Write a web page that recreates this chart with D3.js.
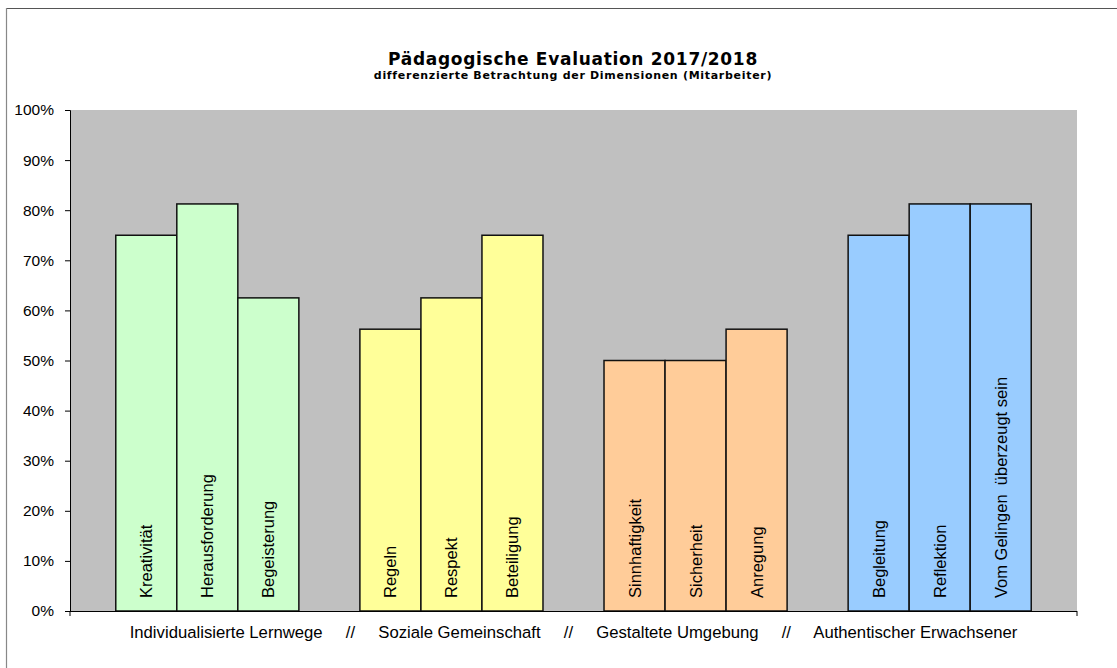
<!DOCTYPE html>
<html>
<head>
<meta charset="utf-8">
<script src="https://cdn.jsdelivr.net/npm/d3@7"></script>
<style>
  body { margin: 0; background: #fff; }
  svg { display: block; }
</style>
</head>
<body>
<svg></svg>
<script>
// Kategorien (leere Einträge = Lücken zwischen den Gruppen)
const categories = [
  "Kreativität", "Herausforderung", "Begeisterung", "gap1",
  "Regeln", "Respekt", "Beteiligung", "gap2",
  "Sinnhaftigkeit", "Sicherheit", "Anregung", "gap3",
  "Begleitung", "Reflektion", "Vom Gelingen  überzeugt sein"
];
// Werte in Prozent (null = Lücke)
const values = [
  75, 81.25, 62.5, null,
  56.25, 62.5, 75, null,
  50, 50, 56.25, null,
  75, 81.25, 81.25
];
// Gruppe je Balken
const groups = [0, 0, 0, -1, 1, 1, 1, -1, 2, 2, 2, -1, 3, 3, 3];
const groupColors = ["#ccffcc", "#ffff99", "#ffcc99", "#99ccff"];
const yTicks = [0, 10, 20, 30, 40, 50, 60, 70, 80, 90, 100];
const title = "Pädagogische Evaluation 2017/2018";
const subtitle = "differenzierte Betrachtung der Dimensionen (Mitarbeiter)";
const axisTitle = "Individualisierte Lernwege     //     Soziale Gemeinschaft     //     Gestaltete Umgebung     //     Authentischer Erwachsener";

const width = 1117, height = 668;
const plot = { left: 70, right: 1077, top: 110, bottom: 611 };

const svg = d3.select("svg").attr("width", width).attr("height", height);

// Rahmen (nur oben und links sichtbar)
svg.append("line").attr("x1", 6).attr("x2", width).attr("y1", 8.5).attr("y2", 8.5)
  .attr("stroke", "#555").attr("stroke-width", 1.2);
svg.append("line").attr("x1", 6.5).attr("x2", 6.5).attr("y1", 8).attr("y2", height)
  .attr("stroke", "#888").attr("stroke-width", 1.2);

// Titel
svg.append("text").attr("x", 573).attr("y", 65).attr("text-anchor", "middle")
  .style("font-family", "'DejaVu Sans', Verdana, sans-serif").style("font-weight", "bold")
  .style("font-size", "17px").style("letter-spacing", "0.7px").text(title);
svg.append("text").attr("x", 573).attr("y", 79).attr("text-anchor", "middle")
  .style("font-family", "'DejaVu Sans', Verdana, sans-serif").style("font-weight", "bold")
  .style("font-size", "11px").style("letter-spacing", "0.7px").text(subtitle);

const x = d3.scaleBand().domain(categories).range([plot.left, plot.right])
  .paddingInner(0).paddingOuter(0.75);
const y = d3.scaleLinear().domain([0, 100]).range([plot.bottom, plot.top]);

// Zeichenfläche
svg.append("rect").attr("x", plot.left).attr("y", plot.top)
  .attr("width", plot.right - plot.left).attr("height", plot.bottom - plot.top)
  .attr("fill", "#c0c0c0");

// Balken
const data = categories.map((c, i) => ({ name: c, value: values[i], group: groups[i] }))
  .filter(d => d.value !== null);

svg.append("g").selectAll("rect").data(data).enter().append("rect")
  .attr("x", d => x(d.name))
  .attr("y", d => y(d.value))
  .attr("width", x.bandwidth())
  .attr("height", d => y(0) - y(d.value))
  .attr("fill", d => groupColors[d.group])
  .attr("stroke", "#111").attr("stroke-width", 1.5);

// Beschriftung in den Balken
svg.append("g").selectAll("text").data(data).enter().append("text")
  .attr("transform", d => `translate(${x(d.name) + x.bandwidth() / 2 + 6},${y(0) - 13}) rotate(-90)`)
  .attr("text-anchor", "start")
  .style("font-family", "'Liberation Sans', Arial, sans-serif")
  .style("font-size", "16.5px")
  .style("white-space", "pre")
  .attr("xml:space", "preserve")
  .text(d => d.name);

// Y-Achse
const yAxis = d3.axisLeft(y).tickValues(yTicks).tickFormat(d => d + "%").tickSize(5).tickPadding(11);
const gy = svg.append("g").attr("transform", `translate(${plot.left},0)`).call(yAxis);
gy.select(".domain").attr("stroke", "#000");
gy.selectAll(".tick line").attr("stroke", "#000");
gy.selectAll(".tick text").style("font-family", "'Liberation Sans', Arial, sans-serif")
  .style("font-size", "15.5px").attr("fill", "#000");

// X-Achse
svg.append("line").attr("x1", plot.left).attr("x2", plot.right)
  .attr("y1", plot.bottom + 0.5).attr("y2", plot.bottom + 0.5).attr("stroke", "#000");
[plot.left, plot.right].forEach(px => {
  svg.append("line").attr("x1", px).attr("x2", px)
    .attr("y1", plot.bottom).attr("y2", plot.bottom + 5).attr("stroke", "#000");
});

svg.append("text").attr("x", (plot.left + plot.right) / 2).attr("y", 638)
  .attr("text-anchor", "middle").attr("xml:space", "preserve")
  .style("white-space", "pre")
  .style("font-family", "'Liberation Sans', Arial, sans-serif").style("font-size", "16.7px")
  .text(axisTitle);
</script>
</body>
</html>
